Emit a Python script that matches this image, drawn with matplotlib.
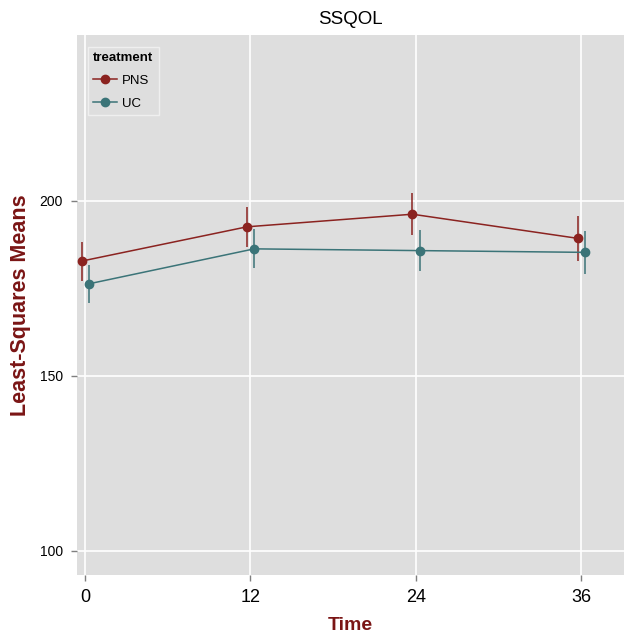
import numpy as np
import matplotlib.pyplot as plt

plt.rcParams['font.family'] = ['Liberation Sans', 'DejaVu Sans']

time = [0, 12, 24, 36]
groups = ['PNS', 'UC']
pns_mean = [182.8, 192.6, 196.2, 189.3]
pns_err = [5.6, 5.8, 6.0, 6.5]
uc_mean = [176.3, 186.3, 185.8, 185.3]
uc_err = [5.35, 5.55, 5.8, 6.2]

colors = {'PNS': '#8b2320', 'UC': '#3b7478'}
dodge = {'PNS': -0.25, 'UC': 0.27}
data = {'PNS': (pns_mean, pns_err), 'UC': (uc_mean, uc_err)}

fig = plt.figure(figsize=(6.24, 6.37), dpi=100)
ax = fig.add_axes([0.1234, 0.0973, 0.8766, 0.8477])
ax.set_facecolor('#dedede')

for g in groups:
    m, e = data[g]
    xs = np.array(time) + dodge[g]
    ax.errorbar(xs, m, yerr=e, fmt='none', ecolor=colors[g], elinewidth=1.1,
                capsize=0, zorder=3)
    ax.plot(xs, m, '-o', color=colors[g], lw=1.1, ms=6, zorder=4, label=g)

ax.set_xlim(-0.58, 39.1)
ax.set_ylim(93.1, 247.4)
ax.set_xticks(time)
ax.set_yticks([100, 150, 200])
ax.grid(True, color='white', lw=1.2)
ax.set_axisbelow(True)
for s in ax.spines.values():
    s.set_visible(False)
ax.tick_params(axis='both', colors='#7f7f7f', length=4, width=1)
ax.tick_params(axis='x', labelsize=13, labelcolor='black', pad=6)
ax.tick_params(axis='y', labelsize=10, labelcolor='black', pad=6)

ax.set_xlabel('Time', fontsize=14, fontweight='bold', color='#7a1515', labelpad=8)
ax.set_ylabel('Least-Squares Means', fontsize=15.5, fontweight='bold', color='#7a1515', labelpad=6)
ax.set_title('SSQOL', fontsize=13.5, pad=8)

leg = ax.legend(title='treatment', loc='upper left', bbox_to_anchor=(0.02, 0.978),
                fontsize=9.5, title_fontproperties={'weight': 'bold', 'size': 9.5},
                frameon=True, facecolor='#dedede', edgecolor='#f4f4f4',
                fancybox=False, handlelength=1.8, handletextpad=0.4,
                borderpad=0.4, labelspacing=0.8, borderaxespad=0)
leg._legend_box.align = 'left'

fig.savefig('out.png', dpi=100)
